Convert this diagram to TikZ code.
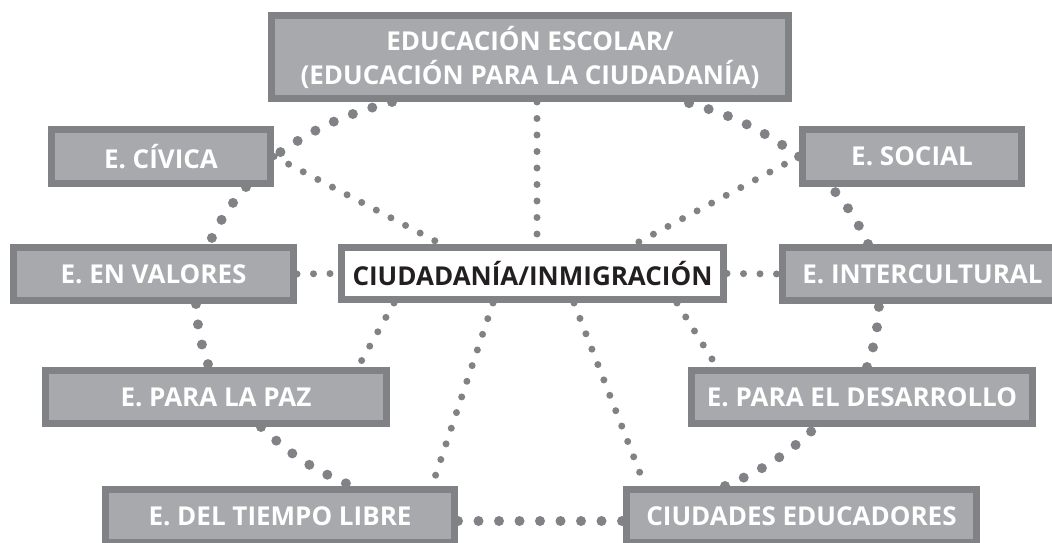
\documentclass[tikz,border=0pt]{standalone}
\usepackage{fontspec}
\setmainfont{Open Sans}
\usetikzlibrary{backgrounds}
\definecolor{lineagris}{RGB}{128,130,133}
\definecolor{cajagris}{RGB}{167,169,172}
\definecolor{textonegro}{RGB}{35,31,32}
\tikzset{
  caja/.style={draw=lineagris, line width=7pt, fill=cajagris, text=white, inner sep=0pt,
    minimum height=53pt, font=\fontsize{26}{34}\selectfont\bfseries},
  nucleo/.style={caja, fill=white, text=textonegro},
  anillo/.style={draw=lineagris, line width=10pt, line cap=round, dash pattern=on 0pt off 20.5pt},
  radio/.style={draw=lineagris, line width=7pt, line cap=round, dash pattern=on 0pt off 16.5pt},
}
\begin{document}
\begin{tikzpicture}[x=1pt, y=1pt]
	\useasboundingbox (0,0) rectangle (1052,542);
	\clip (0,0) rectangle (1052,542);
	% cajas
	\node[nucleo, minimum width=382pt, minimum height=52pt] (ciud) at (532.5,268.5) {CIUDADANÍA/INMIGRACIÓN};
	\node[caja, minimum width=517pt, minimum height=83pt, align=center] (escolar) at (530,485) {EDUCACIÓN ESCOLAR/\\(EDUCACIÓN PARA LA CIUDADANÍA)};
	\node[caja, minimum width=219pt, minimum height=54pt] (civica) at (161,385.5) {E. CÍVICA};
	\node[caja, minimum width=219pt, minimum height=54pt] (social) at (912,385.5) {E. SOCIAL};
	\node[caja, minimum width=280pt] (valores) at (153.5,268) {E. EN VALORES};
	\node[caja, minimum width=280pt] (intercultural) at (922.5,268) {E. INTERCULTURAL};
	\node[caja, minimum width=341pt] (paz) at (216,145) {E. PARA LA PAZ};
	\node[caja, minimum width=341pt] (desarrollo) at (862,145) {E. PARA EL DESARROLLO};
	\node[caja, minimum width=349pt] (tiempo) at (280,26) {E. DEL TIEMPO LIBRE};
	\node[caja, minimum width=350pt] (ciudades) at (801.5,26) {CIUDADES EDUCADORES};
	\begin{scope}[on background layer]
		% radios
		\draw[radio] ([xshift=7pt]escolar.south) -- ([xshift=4.5pt]ciud.north);
		\draw[radio] (civica.east) -- ([xshift=-91.5pt]ciud.north);
		\draw[radio] (social.west) -- ([xshift=102.5pt]ciud.north);
		\draw[radio] (valores.east) -- (ciud.west);
		\draw[radio] (ciud.east) -- (intercultural.west);
		\draw[radio] ([xshift=-138.5pt]ciud.south) -- ([xshift=142pt]paz.north);
		\draw[radio] ([xshift=-39.5pt]ciud.south) -- ([xshift=152pt]tiempo.north);
		\draw[radio] ([xshift=41.5pt]ciud.south) -- ([xshift=-156.5pt]ciudades.north);
		\draw[radio] ([xshift=144.5pt]ciud.south) -- ([xshift=-145pt]desarrollo.north);
		% anillo
		\draw[anillo] ([xshift=-138pt]escolar.south) to[bend right=10] (civica.east);
		\draw[anillo] ([xshift=85pt]civica.south) to[bend right=8] ([xshift=55.5pt]valores.north);
		\draw[anillo] ([xshift=42.5pt]valores.south) to[bend right=8] ([xshift=-7pt]paz.north);
		\draw[anillo] ([xshift=45pt]paz.south) to[bend right=10] ([xshift=72pt]tiempo.north);
		\draw[anillo] ([yshift=-5pt]tiempo.east) -- ([yshift=-5pt]ciudades.west);
		\draw[anillo] ([xshift=-76.5pt]ciudades.north) to[bend right=10] ([xshift=-46pt]desarrollo.south);
		\draw[anillo] ([xshift=5pt]desarrollo.north) to[bend right=8] ([xshift=-43.5pt]intercultural.south);
		\draw[anillo] ([xshift=-54.5pt]intercultural.north) to[bend right=8] ([xshift=-81pt]social.south);
		\draw[anillo] (social.west) to[bend right=10] ([xshift=155pt]escolar.south);
	\end{scope}
\end{tikzpicture}
\end{document}
